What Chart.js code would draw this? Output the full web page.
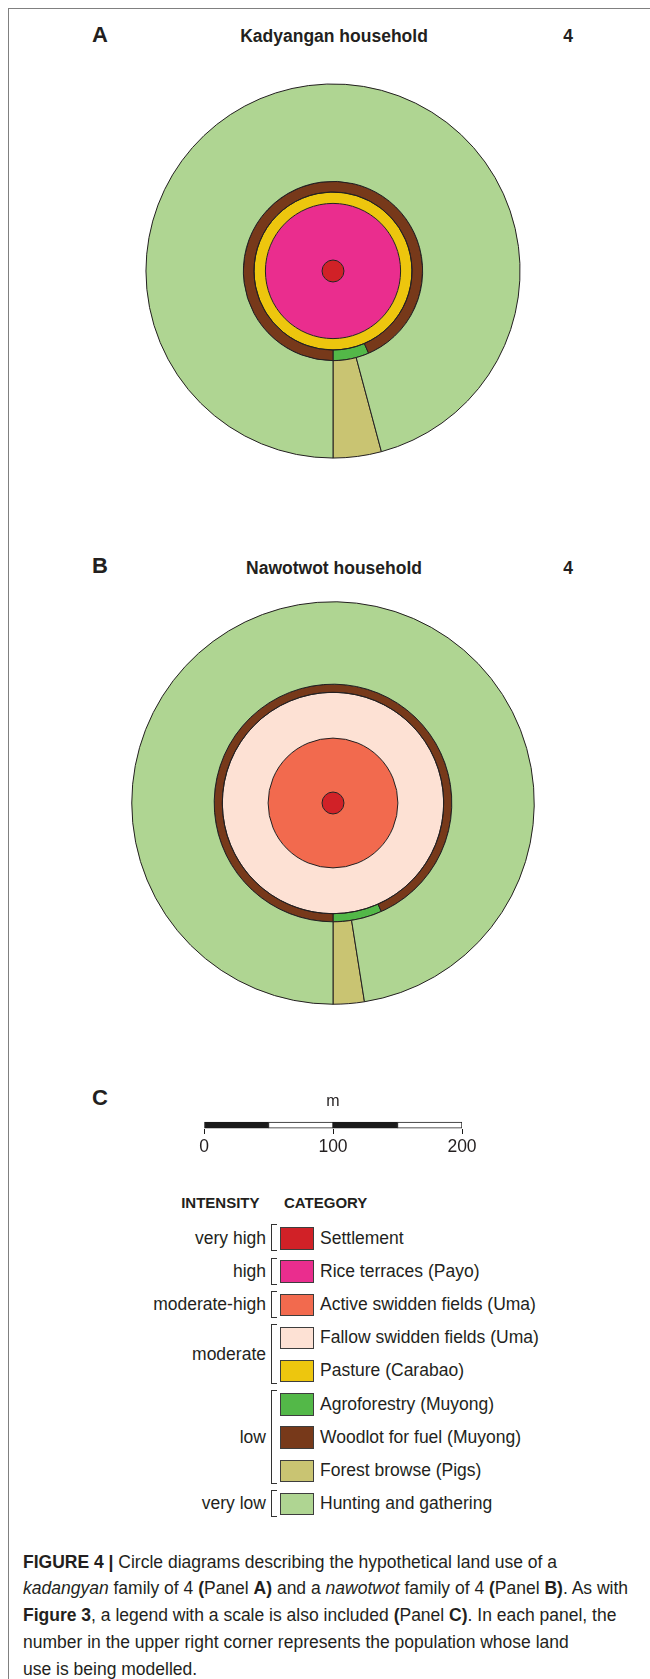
<!DOCTYPE html>
<html>
<head>
<meta charset="utf-8">
<title>Figure 4</title>
<script src="https://cdn.jsdelivr.net/npm/chart.js@4.4.1/dist/chart.umd.min.js"></script>
<style>
  html, body { margin: 0; padding: 0; background: #fff; }
  body { position: relative; width: 650px; height: 1679px; overflow: hidden;
         font-family: "Liberation Sans", Arial, Helvetica, sans-serif; color: #231f20; }
  .frame { position: absolute; left: 8px; top: 8px; width: 700px; height: 1700px;
           border-left: 1.5px solid #808080; border-top: 1.5px solid #808080; }
  .txt { position: absolute; line-height: 1; white-space: nowrap; }
  .letter { left: 92px; font-size: 22px; font-weight: bold; }
  .title { font-size: 17.5px; font-weight: bold; transform: translateX(-50%); }
  canvas { position: absolute; }
  #donutA { left: 113px; top: 51px; }
  #donutB { left: 113px; top: 583px; }
  #scaleBar { left: 154px; top: 1088px; }
  .head { font-size: 15px; font-weight: bold; top: 1194.5px; }
  .intensity { font-size: 17.5px; right: 384px; }
  .category { font-size: 17.5px; left: 320px; }
  .swatch { position: absolute; left: 280px; width: 34px; height: 22.5px; box-sizing: border-box; border: 1px solid #3d3d3d; }
  .bracket { position: absolute; left: 271px; width: 6px; box-sizing: border-box; border: 1.3px solid #333; border-right: none; }
  .caption { position: absolute; left: 23px; top: 1548.5px; font-size: 17.5px; line-height: 26.8px; white-space: nowrap; }
</style>
</head>
<body>
<div class="frame"></div>

<div class="txt letter" style="top:24px">A</div>
<div class="txt title" style="left:334px; top:28px">Kadyangan household</div>
<div class="txt title" style="left:568px; top:28px">4</div>
<canvas id="donutA" width="440" height="440"></canvas>

<div class="txt letter" style="top:555px">B</div>
<div class="txt title" style="left:334px; top:560px">Nawotwot household</div>
<div class="txt title" style="left:568px; top:560px">4</div>
<canvas id="donutB" width="440" height="440"></canvas>

<div class="txt letter" style="top:1087px">C</div>
<canvas id="scaleBar" width="358" height="73"></canvas>

<div class="txt head" style="right:390.5px">INTENSITY</div>
<div class="txt head" style="left:284px">CATEGORY</div>
<div id="legend"></div>

<div class="caption"><b>FIGURE 4 |</b> Circle diagrams describing the hypothetical land use of a<br><i>kadangyan</i> family of 4 <b>(</b>Panel <b>A)</b> and a <i>nawotwot</i> family of 4 <b>(</b>Panel <b>B)</b>. As with<br><b>Figure 3</b>, a legend with a scale is also included <b>(</b>Panel <b>C)</b>. In each panel, the<br>number in the upper right corner represents the population whose land<br>use is being modelled.</div>

<script>
// categories of the legend, most intensive first
var categories = ['Settlement', 'Rice terraces (Payo)', 'Active swidden fields (Uma)',
    'Fallow swidden fields (Uma)', 'Pasture (Carabao)', 'Agroforestry (Muyong)',
    'Woodlot for fuel (Muyong)', 'Forest browse (Pigs)', 'Hunting and gathering'];
var intensities = ['very high', 'high', 'moderate-high', 'moderate', 'moderate',
    'low', 'low', 'low', 'very low'];
var categoryColors = ['#D12127', '#EA2D8E', '#F26A4E', '#FDE1D4', '#EDC60E',
    '#53B848', '#77391A', '#C9C472', '#AFD592'];

// scale bar (m)
var scaleSegments = [50, 50, 50, 50];
var scaleTicks = [0, 100, 200];

// Panel A: zones from the centre outwards, outer radius in m
var zonesA = ['Settlement', 'Rice terraces (Payo)', 'Pasture (Carabao)',
    'Woodlot for fuel (Muyong)', 'Hunting and gathering'];
var radiiA = [8.5, 52.4, 61.2, 69.5, 145.0];
// wedges cut from a zone, angle in degrees measured from due south
var wedgesA = ['Agroforestry (Muyong)', 'Forest browse (Pigs)'];
var wedgeZonesA = ['Woodlot for fuel (Muyong)', 'Hunting and gathering'];
var wedgeAnglesA = [23.4, 15];

// Panel B
var zonesB = ['Settlement', 'Active swidden fields (Uma)', 'Fallow swidden fields (Uma)',
    'Woodlot for fuel (Muyong)', 'Hunting and gathering'];
var radiiB = [8.5, 50.3, 85.8, 92.1, 156.0];
var wedgesB = ['Agroforestry (Muyong)', 'Forest browse (Pigs)'];
var wedgeZonesB = ['Woodlot for fuel (Muyong)', 'Hunting and gathering'];
var wedgeAnglesB = [24, 9];

var FONT = '"Liberation Sans", Arial, Helvetica, sans-serif';
var INK = '#231f20';

function colorOf(name) {
    return categoryColors[categories.indexOf(name)];
}

// scale bar
var scaleChart = new Chart(document.getElementById('scaleBar'), {
    type: 'bar',
    data: {
        labels: ['m'],
        datasets: scaleSegments.map(function (v, i) {
            return {
                data: [v],
                backgroundColor: i % 2 == 0 ? '#1a1a1a' : '#ffffff',
                borderColor: '#1a1a1a',
                borderWidth: 1,
                borderSkipped: false,
                barThickness: 6
            };
        })
    },
    options: {
        indexAxis: 'y',
        responsive: false,
        animation: false,
        events: [],
        layout: { padding: { left: 50, right: 50, top: 0, bottom: 0 } },
        plugins: {
            legend: { display: false },
            tooltip: { enabled: false },
            title: {
                display: true, text: 'm', color: INK,
                font: { family: FONT, size: 16, weight: 'normal' },
                padding: { top: 4, bottom: 10 }
            }
        },
        scales: {
            x: {
                type: 'linear', stacked: true,
                min: scaleTicks[0], max: scaleTicks[scaleTicks.length - 1],
                afterBuildTicks: function (axis) {
                    axis.ticks = scaleTicks.map(function (t) { return { value: t }; });
                },
                ticks: { color: INK, font: { family: FONT, size: 17.5 }, padding: 3, maxRotation: 0 },
                grid: { drawOnChartArea: false, drawTicks: true, tickLength: 5, color: '#1a1a1a', lineWidth: 1 },
                border: { display: false }
            },
            y: { stacked: true, display: false }
        }
    }
});

var pxPerMeter = (scaleChart.scales.x.getPixelForValue(200) - scaleChart.scales.x.getPixelForValue(0)) / 200;

// full rings get their outline here, so no seam line is drawn across them
var ringOutline = {
    id: 'ringOutline',
    afterDatasetsDraw: function (chart) {
        var ctx = chart.ctx;
        ctx.save();
        ctx.strokeStyle = INK;
        ctx.lineWidth = 1;
        chart.data.datasets.forEach(function (ds, i) {
            if (!ds.fullRing) return;
            chart.getDatasetMeta(i).data.forEach(function (arc) {
                ctx.beginPath();
                ctx.arc(arc.x, arc.y, arc.outerRadius, 0, Math.PI * 2);
                ctx.stroke();
            });
        });
        ctx.restore();
    }
};

// one ring per zone, outermost first
function ringDatasets(zones, radii, wedges, wedgeZones, wedgeAngles) {
    var datasets = [];
    for (var i = zones.length - 1; i >= 0; i--) {
        var inner = i > 0 ? radii[i - 1] : 0;
        var w = wedgeZones.indexOf(zones[i]);
        if (w >= 0) {
            datasets.push({
                label: zones[i],
                data: [wedgeAngles[w], 360 - wedgeAngles[w]],
                backgroundColor: [colorOf(wedges[w]), colorOf(zones[i])],
                weight: radii[i] - inner,
                rotation: 180 - wedgeAngles[w]
            });
        } else {
            datasets.push({
                label: zones[i],
                data: [360],
                backgroundColor: [colorOf(zones[i])],
                weight: radii[i] - inner,
                borderWidth: 0,
                fullRing: true
            });
        }
    }
    return datasets;
}

function drawPanel(id, zones, radii, wedges, wedgeZones, wedgeAngles) {
    return new Chart(document.getElementById(id), {
        type: 'doughnut',
        data: {
            labels: ['wedge', 'zone'],
            datasets: ringDatasets(zones, radii, wedges, wedgeZones, wedgeAngles)
        },
        options: {
            responsive: false,
            animation: false,
            events: [],
            cutout: 0,
            radius: radii[radii.length - 1] * pxPerMeter,
            elements: { arc: { borderColor: INK, borderWidth: 1, borderAlign: 'center' } },
            plugins: { legend: { display: false }, tooltip: { enabled: false } }
        },
        plugins: [ringOutline]
    });
}

drawPanel('donutA', zonesA, radiiA, wedgesA, wedgeZonesA, wedgeAnglesA);
drawPanel('donutB', zonesB, radiiB, wedgesB, wedgeZonesB, wedgeAnglesB);

// legend
var legendTop = 1238.4;
var rowStep = 33.2;
var legendBox = document.getElementById('legend');
for (var i = 0; i < categories.length; i++) {
    var c = legendTop + rowStep * i;
    var sw = document.createElement('div');
    sw.className = 'swatch';
    sw.style.top = (c - 11.25) + 'px';
    sw.style.background = categoryColors[i];
    legendBox.appendChild(sw);

    var label = document.createElement('div');
    label.className = 'txt category';
    label.style.top = (c - 8.75) + 'px';
    label.textContent = categories[i];
    legendBox.appendChild(label);
}
// brackets group rows with the same intensity
var start = 0;
for (var i = 1; i <= intensities.length; i++) {
    if (i == intensities.length || intensities[i] != intensities[start]) {
        var c0 = legendTop + rowStep * start;
        var c1 = legendTop + rowStep * (i - 1);
        var br = document.createElement('div');
        br.className = 'bracket';
        br.style.top = (c0 - 14) + 'px';
        br.style.height = (c1 - c0 + 27) + 'px';
        legendBox.appendChild(br);

        var lab = document.createElement('div');
        lab.className = 'txt intensity';
        lab.style.top = ((c0 + c1) / 2 - 8.75) + 'px';
        lab.textContent = intensities[start];
        legendBox.appendChild(lab);
        start = i;
    }
}
</script>
</body>
</html>
